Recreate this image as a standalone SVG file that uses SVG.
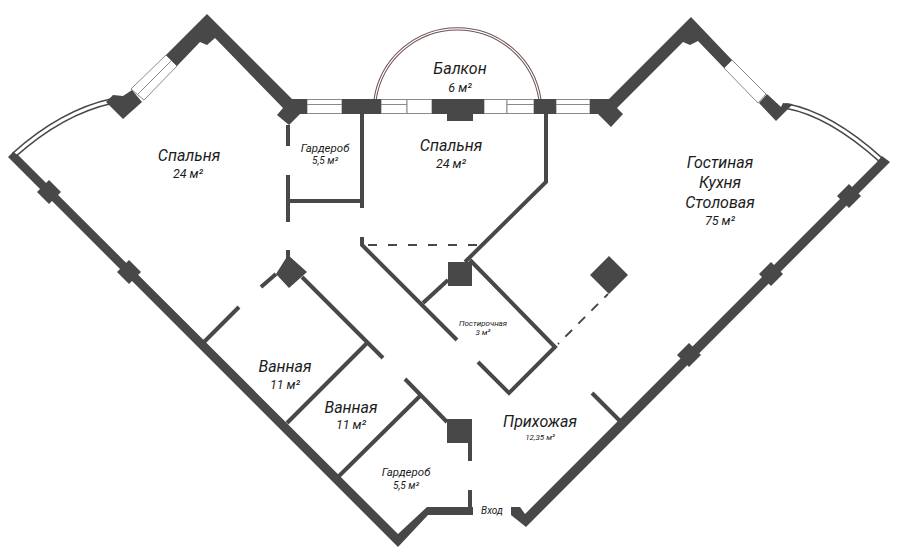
<svg xmlns="http://www.w3.org/2000/svg" width="900" height="558" viewBox="0 0 900 558">
<style>
.w{fill:#484848;stroke:none}
.p{stroke:#484848;stroke-width:4;fill:none}
.win{fill:#fff;stroke:#8a8a8a;stroke-width:1}
.mid{stroke:#8a8a8a;stroke-width:1}
.a1{stroke:#484848;stroke-width:6;fill:none}
.a2{stroke:#fff;stroke-width:3;fill:none}
.b1{stroke:#6e4f50;stroke-width:3.2;fill:none}
.b2{stroke:#fff;stroke-width:1.2;fill:none}
text{font-family:Roboto,"Liberation Sans",sans-serif;font-style:italic;fill:#1c1c1c;text-anchor:middle}
.l{font-size:16px}
.a{font-size:12.5px}
.s{font-size:11.5px}
.x{font-size:10px}
.t{font-size:8px}
</style>
<rect width="900" height="558" fill="#fff"/>
<g id="balcony">
<path class="b1" d="M375 100A83.4 83.4 0 0 1 540 100"/>
<path class="b2" d="M375 100A83.4 83.4 0 0 1 540 100"/>
</g>
<g id="windows">
<polygon class="win" points="166,55 131,89 144,100 177,66"/>
<line class="mid" x1="171.500" y1="60.500" x2="137.500" y2="94.500"/>
<polygon class="win" points="732,60 766,94 758,103 724,68"/>
<rect class="win" x="307" y="99.500" width="35" height="14"/>
<line class="mid" x1="307" y1="104.500" x2="342" y2="104.500"/>
<rect class="win" x="381" y="99.500" width="26" height="14"/>
<line class="mid" x1="381" y1="104.500" x2="407" y2="104.500"/>
<rect class="win" x="407" y="99.500" width="25" height="14"/>
<rect class="win" x="484" y="99.500" width="23" height="14"/>
<rect class="win" x="507" y="99.500" width="27" height="14"/>
<line class="mid" x1="507" y1="104.500" x2="534" y2="104.500"/>
<rect class="win" x="556" y="99.500" width="34" height="14"/>
<line class="mid" x1="556" y1="104.500" x2="590" y2="104.500"/>
<path class="a1" d="M112 101Q62 112 14 155"/>
<path class="a2" d="M112 101Q62 112 14 155"/>
<path class="a1" d="M786 106Q830 114 881 160"/>
<path class="a2" d="M786 106Q830 114 881 160"/>
</g>
<g id="outer-walls">
<polygon class="w" points="307,99 292,99 207,14 166,55 177,66 200,42 207,45 215,38 283,108 277,115 289,125 300,114 307,114"/>
<polygon class="w" points="106,102 113,95 123,96 132,90 142,102 123,119"/>
<polygon class="w" points="8,157 13,152 18,155 398,534 427,507 473,507 473,515 428,515 398,547"/>
<polygon class="w" points="590,99 609,99 691,17 732,60 724,68 698,41 690,45 683,42 617,108 623,114 611,127 598,114 590,114"/>
<polygon class="w" points="767,94 781,107 783,103 793,104 776,121 759,103"/>
<polygon class="w" points="890,162 882,156 876,163 525,514 520,507 511,507 511,515 526,527"/>
<rect class="w" x="342" y="99" width="39" height="15"/>
<rect class="w" x="432" y="99" width="52" height="15"/>
<rect class="w" x="447" y="114" width="26" height="7"/>
<rect class="w" x="534" y="99" width="22" height="15"/>
<polygon class="w" points="49,180 61,192 49,204 37,192"/>
<polygon class="w" points="129,260 141,272 129,284 117,272"/>
<polygon class="w" points="849,184 861,196 849,208 837,196"/>
<polygon class="w" points="771,262 783,274 771,286 759,274"/>
<polygon class="w" points="689,343 701,355 689,367 677,355"/>
</g>
<g id="pillars">
<polygon class="w" points="288,255 307,272 289,288 276,274"/>
<rect class="w" x="448" y="262" width="24" height="24"/>
<polygon class="w" points="609,256 628,275 609,294 590,275"/>
<rect class="w" x="447" y="419" width="25" height="24"/>
</g>
<g id="inner-walls">
<path class="p" d="M362 114V208"/>
<path class="p" d="M288 125V146M288 175V222M288 201H362"/>
<path class="p" d="M362 237V245L457 340"/>
<path class="p" d="M546 114V182L465 262"/>
<path class="p" d="M448 280L423 303"/>
<path class="p" d="M470 260L555 347L509 393L478 362"/>
<path class="p" d="M288 250V260M276 274L261 287M302 277L383 358M367 343L287 423M239 307L203 343"/>
<path class="p" d="M405 379L447 422M420 396L338 477"/>
<path class="p" d="M470 443V461M470 490V507"/>
<path class="p" d="M592 393L621 422"/>
<path d="M368 245H482" stroke="#484848" stroke-width="1.800" stroke-dasharray="9 11" fill="none"/>
<path d="M558 344L608 294" stroke="#484848" stroke-width="2" stroke-dasharray="9.500 8.900" stroke-dashoffset="8" fill="none"/>
</g>
<g id="labels">
<text class="l" x="189" y="161">Спальня</text><text class="a" x="188" y="178">24 м²</text>
<text class="l" x="460" y="74">Балкон</text><text class="a" x="460" y="92">6 м²</text>
<text class="s" x="325" y="152">Гардероб</text><text class="x" x="325" y="164">5,5 м²</text>
<text class="l" x="451" y="151">Спальня</text><text class="a" x="451" y="168">24 м²</text>
<text class="l" x="720" y="168">Гостиная</text><text class="l" x="720" y="188">Кухня</text><text class="l" x="720" y="208">Столовая</text><text class="a" x="720" y="225">75 м²</text>
<text class="l" x="285" y="372">Ванная</text><text class="a" x="285" y="389">11 м²</text>
<text class="l" x="351" y="413">Ванная</text><text class="a" x="351" y="429">11 м²</text>
<text class="t" x="483" y="326">Постирочная</text><text class="t" x="483" y="335">3 м²</text>
<text class="l" x="540" y="427">Прихожая</text><text class="t" x="540" y="440">12,35 м²</text>
<text class="s" x="406" y="476">Гардероб</text><text class="x" x="406" y="489">5,5 м²</text>
<text class="x" x="492" y="514">Вход</text>
</g>
</svg>
